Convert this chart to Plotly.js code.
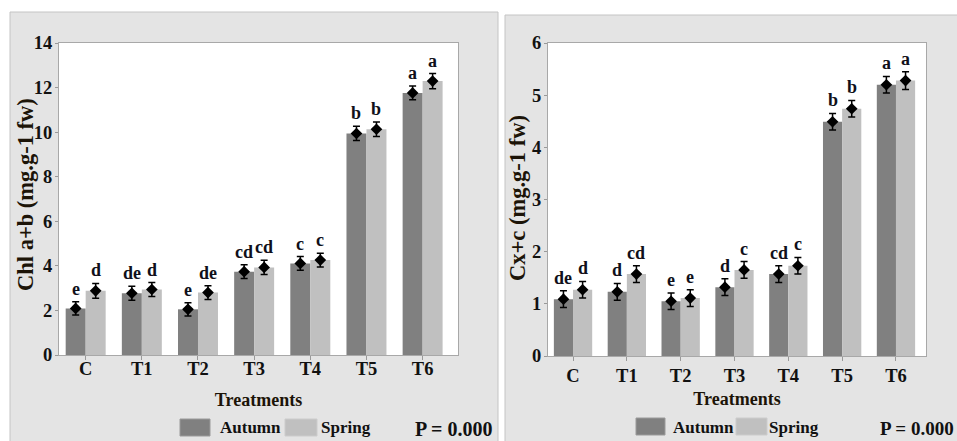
<!DOCTYPE html>
<html><head><meta charset="utf-8">
<script src="https://cdn.plot.ly/plotly-3.0.1.min.js"></script>
<style>html,body{margin:0;padding:0;background:#fff}#chart{width:957px;height:441px}</style>
</head><body><div id="chart"></div>
<script>
// ---- data ----
const treatments = ['C','T1','T2','T3','T4','T5','T6'];
const seasons = ['Autumn','Spring'];
const chlAutumn = [2.09, 2.77, 2.05, 3.74, 4.11, 9.94, 11.76];
const chlSpring = [2.88, 2.94, 2.80, 3.93, 4.26, 10.13, 12.29];
const chlAutumnErr = [0.30, 0.31, 0.30, 0.31, 0.31, 0.32, 0.31];
const chlSpringErr = [0.33, 0.31, 0.31, 0.32, 0.31, 0.32, 0.34];
const chlAutumnLetters = ['e','de','e','cd','c','b','a'];
const chlSpringLetters = ['d','d','de','cd','c','b','a'];
const cxAutumn = [1.09, 1.23, 1.05, 1.32, 1.57, 4.49, 5.20];
const cxSpring = [1.27, 1.57, 1.11, 1.65, 1.73, 4.74, 5.28];
const cxAutumnErr = [0.16, 0.16, 0.16, 0.16, 0.16, 0.16, 0.16];
const cxSpringErr = [0.16, 0.16, 0.16, 0.16, 0.16, 0.16, 0.17];
const cxAutumnLetters = ['de','d','e','d','cd','b','a'];
const cxSpringLetters = ['d','cd','e','c','c','b','a'];
const yTitles = ['Chl a+b (mg.g-1 fw)', 'Cx+c (mg.g-1 fw)'];
const xTitle = 'Treatments';
const pText = 'P = 0.000';

// ---- styles ----
const colAutumn = '#808080', colSpring = '#c0c0c0';
const SERIF = 'Liberation Serif, Times New Roman, serif';
const W = 957, H = 441;
const barW = 0.356;
const idx = treatments.map((_, i) => i);
const xA = idx.map(i => i - barW / 2);
const xS = idx.map(i => i + barW / 2);

function panel(vA, vS, eA, eS, xa, ya) {
  const out = [];
  [[vA, eA, xA, colAutumn, seasons[0]], [vS, eS, xS, colSpring, seasons[1]]].forEach(([v, e, x, c, n]) => {
    out.push({type:'bar', name:n, x:x, y:v, width:barW, xaxis:xa, yaxis:ya,
      marker:{color:c, line:{width:0}}, hoverinfo:'skip'});
    out.push({type:'scatter', mode:'markers', name:n, x:x, y:v, xaxis:xa, yaxis:ya,
      marker:{symbol:'diamond', size:9, color:'#000'},
      error_y:{type:'data', array:e, visible:true, color:'#000', thickness:1.5, width:3.5},
      hoverinfo:'skip'});
  });
  return out;
}
const data = [
  ...panel(chlAutumn, chlSpring, chlAutumnErr, chlSpringErr, 'x', 'y'),
  ...panel(cxAutumn, cxSpring, cxAutumnErr, cxSpringErr, 'x2', 'y2')
];

const annotations = [];
function letters(v, e, L, x, xr, yr) {
  L.forEach((t, i) => annotations.push({xref:xr, yref:yr, x:x[i], y:v[i] + e[i], text:t,
    showarrow:false, yanchor:'bottom', yshift:1,
    font:{family:SERIF, size:18, weight:'bold', color:'#10101a'}}));
}
letters(chlAutumn, chlAutumnErr, chlAutumnLetters, xA, 'x', 'y');
letters(chlSpring, chlSpringErr, chlSpringLetters, xS, 'x', 'y');
letters(cxAutumn, cxAutumnErr, cxAutumnLetters, xA, 'x2', 'y2');
letters(cxSpring, cxSpringErr, cxSpringLetters, xS, 'x2', 'y2');

const px = p => p / W, py = p => 1 - p / H;
function txt(t, x, y, size, xanchor, angle, color) {
  annotations.push({xref:'paper', yref:'paper', x:px(x), y:py(y), text:t, showarrow:false,
    xanchor:xanchor || 'center', yanchor:'middle', textangle:angle || 0,
    font:{family:SERIF, size:size, weight:'bold', color:color || '#111'}});
}
txt(seasons[0], 250.5, 427, 17); txt(seasons[1], 346, 427, 17); txt(pText, 413, 429, 20, 'left');
txt(seasons[0], 703.5, 427, 17); txt(seasons[1], 794, 427, 17); txt(pText, 956, 428, 19, 'right');
txt(yTitles[0], 25, 195, 22.5, 'center', -90, '#1c1408');
txt(yTitles[1], 517, 198, 22.5, 'center', -90, '#1c1408');

function rect(x0, y0, x1, y1, fill, line) {
  return {type:'rect', xref:'paper', yref:'paper', x0:px(x0), x1:px(x1), y0:py(y1), y1:py(y0),
    fillcolor:fill, line:line || {width:0}, layer:'above'};
}
const shapes = [
  rect(0, 0, 505, 12, '#ffffff'), rect(498, 0, 957, 15, '#ffffff'),
  rect(0, 0, 10, 441, '#ffffff'), rect(498, 0, 505, 441, '#ffffff'),
  rect(10, 12, 498, 442, 'rgba(0,0,0,0)', {color:'#c4c4c4', width:1}),
  rect(505, 15, 958, 442, 'rgba(0,0,0,0)', {color:'#c4c4c4', width:1}),
  rect(180, 419, 210, 436, colAutumn, {color:'#9a9a9a', width:1}),
  rect(285, 419, 317, 436, colSpring, {color:'#cccccc', width:1}),
  rect(636, 418, 665, 435, colAutumn, {color:'#9a9a9a', width:1}),
  rect(736, 418, 767, 435, colSpring, {color:'#cccccc', width:1})
];

const tickF = {family:SERIF, size:18.5, weight:'bold', color:'#111'};
function xax(domain, range, anchor, lblOff, tOff) {
  return {domain:domain, range:range, anchor:anchor, tickmode:'array', tickvals:idx, ticktext:treatments,
    ticks:'outside', ticklen:4, tickcolor:'#999', showline:true, mirror:true, linecolor:'#a8a8a8', linewidth:1,
    showgrid:false, zeroline:false, tickfont:tickF, fixedrange:true, ticklabelstandoff:lblOff,
    title:{text:xTitle, font:{family:SERIF, size:18, weight:'bold', color:'#1c1408'}, standoff:tOff}};
}
function yax(domain, range, dtick, anchor) {
  return {domain:domain, range:range, dtick:dtick, anchor:anchor, ticks:'outside', ticklen:3, tickcolor:'#999',
    showline:true, mirror:true, linecolor:'#a8a8a8', linewidth:1, showgrid:false, zeroline:false,
    tickfont:tickF, fixedrange:true, ticklabelstandoff:-1};
}
const layout = {
  width:W, height:H, margin:{l:0, r:0, t:0, b:0},
  paper_bgcolor:'#e4e4e4', plot_bgcolor:'#ffffff',
  barmode:'overlay', showlegend:false, font:{family:SERIF},
  xaxis: xax([59/W, 458/W], [-0.475, 6.63], 'y', -7, 15),
  yaxis: yax([1 - 355/H, 1 - 43/H], [0, 14], 2, 'x'),
  xaxis2: xax([548/W, 926/W], [-0.465, 6.558], 'y2', -1, 7),
  yaxis2: yax([1 - 356/H, 1 - 43/H], [0, 6], 1, 'x2'),
  annotations: annotations, shapes: shapes
};
Plotly.newPlot('chart', data, layout, {displayModeBar:false, staticPlot:true});
</script></body></html>
